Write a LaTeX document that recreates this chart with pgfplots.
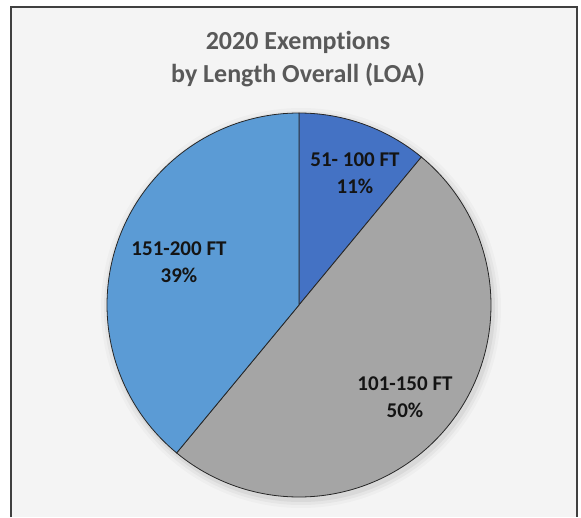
\documentclass[border=0pt]{standalone}
\usepackage{pgfplots}
\pgfplotsset{compat=1.18}
\usepackage{pgfplotstable}
\usepackage{fontspec}
\setmainfont{Carlito}[Ligatures={NoCommon}]
\definecolor{sliceA}{HTML}{4472C4}
\definecolor{sliceB}{HTML}{A5A5A5}
\definecolor{sliceC}{HTML}{5B9BD5}
\definecolor{titlegray}{HTML}{595959}
\definecolor{bggray}{HTML}{F4F4F4}
\definecolor{framegray}{HTML}{404040}
\definecolor{labelcol}{HTML}{141414}

% slice, percentage, label position (pixels from top-left)
\pgfplotstableread[col sep=comma]{
name,value,lx,ly
51- 100 FT,11,355,173
101-150 FT,50,405,397
151-200 FT,39,179,262
}\piedata

\pgfplotstablegetelem{0}{value}\of\piedata\edef\vA{\pgfplotsretval}
\pgfplotstablegetelem{1}{value}\of\piedata\edef\vB{\pgfplotsretval}
\pgfplotstablegetelem{2}{value}\of\piedata\edef\vC{\pgfplotsretval}
\pgfplotstablegetelem{0}{name}\of\piedata\edef\nA{\pgfplotsretval}
\pgfplotstablegetelem{1}{name}\of\piedata\edef\nB{\pgfplotsretval}
\pgfplotstablegetelem{2}{name}\of\piedata\edef\nC{\pgfplotsretval}
\pgfplotstablegetelem{0}{lx}\of\piedata\edef\xA{\pgfplotsretval}
\pgfplotstablegetelem{1}{lx}\of\piedata\edef\xB{\pgfplotsretval}
\pgfplotstablegetelem{2}{lx}\of\piedata\edef\xC{\pgfplotsretval}
\pgfplotstablegetelem{0}{ly}\of\piedata\pgfmathsetmacro{\yA}{517-\pgfplotsretval}
\pgfplotstablegetelem{1}{ly}\of\piedata\pgfmathsetmacro{\yB}{517-\pgfplotsretval}
\pgfplotstablegetelem{2}{ly}\of\piedata\pgfmathsetmacro{\yC}{517-\pgfplotsretval}

\pgfmathsetmacro{\aA}{90}
\pgfmathsetmacro{\aB}{90-3.6*\vA}
\pgfmathsetmacro{\aC}{\aB-3.6*\vB}
\pgfmathsetmacro{\aD}{\aC-3.6*\vC}

\begin{document}
\begin{tikzpicture}
\begin{axis}[
  width=581pt, height=517pt, scale only axis,
  xmin=0, xmax=581, ymin=0, ymax=517,
  hide axis, clip=false,
]
% chart area background and frame
\fill[bggray] (axis cs:11,0) rectangle (axis cs:577,510);
\draw[framegray, line width=1.3pt] (axis cs:11,0) -- (axis cs:11,510) -- (axis cs:577,510) -- (axis cs:577,0);
% title
\node[font=\bfseries\fontsize{26}{33}\selectfont, text=titlegray, align=center]
  at (axis cs:298,458) {2020 Exemptions\\by Length Overall (LOA)};
% soft shadow
\fill[black, opacity=0.025] (axis cs:301,209) circle[radius=200pt];
\fill[black, opacity=0.035] (axis cs:301,209) circle[radius=197pt];
\fill[black, opacity=0.05] (axis cs:301,209) circle[radius=194pt];
% slices
\filldraw[fill=sliceA, draw=black!85, line width=0.8pt] (axis cs:299,212) -- ++(\aA:192pt) arc[start angle=\aA, end angle=\aB, radius=192pt] -- cycle;
\filldraw[fill=sliceB, draw=black!85, line width=0.8pt] (axis cs:299,212) -- ++(\aB:192pt) arc[start angle=\aB, end angle=\aC, radius=192pt] -- cycle;
\filldraw[fill=sliceC, draw=black!85, line width=0.8pt] (axis cs:299,212) -- ++(\aC:192pt) arc[start angle=\aC, end angle=\aD, radius=192pt] -- cycle;
% data labels
\node[font=\bfseries\fontsize{21}{27}\selectfont, text=labelcol, align=center] at (axis cs:\xA,\yA) {\nA\\\vA\%};
\node[font=\bfseries\fontsize{21}{27}\selectfont, text=labelcol, align=center] at (axis cs:\xB,\yB) {\nB\\\vB\%};
\node[font=\bfseries\fontsize{21}{27}\selectfont, text=labelcol, align=center] at (axis cs:\xC,\yC) {\nC\\\vC\%};
\end{axis}
\pgfresetboundingbox
\useasboundingbox (0,0) rectangle (581pt,517pt);
\end{tikzpicture}
\end{document}
